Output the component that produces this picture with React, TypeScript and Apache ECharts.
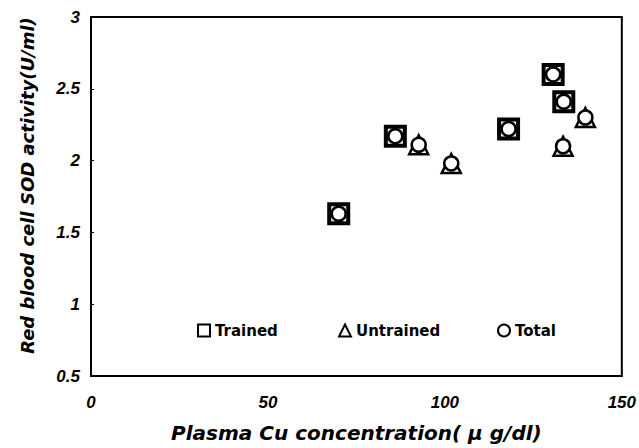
import React, { useEffect, useRef } from "react";
import * as echarts from "echarts";

const trainedX = [70, 86, 118, 130.6, 133.6];
const trainedY = [1.63, 2.17, 2.22, 2.6, 2.41];
const untrainedX = [92.6, 101.8, 139.7, 133.4];
const untrainedY = [2.11, 1.98, 2.3, 2.1];
const totalX = [70, 86, 92.6, 101.8, 118, 130.6, 133.6, 139.7, 133.4];
const totalY = [1.63, 2.17, 2.11, 1.98, 2.22, 2.6, 2.41, 2.3, 2.1];
const seriesNames = ["Trained", "Untrained", "Total"];
const xTicks = [0, 50, 100, 150];
const yTicks = [0.5, 1, 1.5, 2, 2.5, 3];

const pairs = (xs: number[], ys: number[]) => xs.map((x, i) => [x, ys[i]]);

const FONT = "'Liberation Sans', Arial, sans-serif";
const WIDE = "'DejaVu Sans', sans-serif";

export default function App() {
  const ref = useRef<HTMLDivElement>(null);
  useEffect(() => {
    document.body.style.margin = "0";
    const chart = echarts.init(ref.current!, null, { renderer: "svg" });
    const legendText = { fontFamily: WIDE, fontWeight: "bold", fontSize: 15, color: "#000" };
    const mkLegend = (name: string, left: number, icon: string) => ({
      data: [{ name, icon }],
      left,
      top: 323,
      padding: 0,
      itemWidth: 12,
      itemHeight: 12,
      itemGap: 4,
      textStyle: legendText,
      itemStyle: { color: "#fff", borderColor: "#000", borderWidth: 2 },
      selectedMode: false,
    });
    const tickLabel = {
      fontFamily: FONT,
      fontWeight: "bold",
      fontStyle: "italic",
      fontSize: 17,
      color: "#000",
    };
    chart.setOption({
      animation: false,
      backgroundColor: "#fff",
      grid: {
        left: 91,
        right: 15,
        top: 17,
        bottom: 72,
        show: true,
        borderColor: "#000",
        borderWidth: 2,
      },
      legend: [
        mkLegend(seriesNames[0], 197, "rect"),
        mkLegend(seriesNames[1], 338, "triangle"),
        mkLegend(seriesNames[2], 497, "circle"),
      ],
      xAxis: {
        type: "value",
        min: xTicks[0],
        max: xTicks[xTicks.length - 1],
        interval: 50,
        name: "Plasma Cu concentration( μ g/dl)",
        nameLocation: "middle",
        nameGap: 47,
        nameTextStyle: { fontFamily: WIDE, fontWeight: "bold", fontStyle: "italic", fontSize: 20, color: "#000" },
        axisLine: { show: true, lineStyle: { color: "#000", width: 2 } },
        axisTick: { show: false },
        splitLine: { show: false },
        axisLabel: { ...tickLabel, margin: 18 },
      },
      yAxis: {
        type: "value",
        min: yTicks[0],
        max: yTicks[yTicks.length - 1],
        interval: 0.5,
        name: "Red blood cell SOD activity(U/ml)",
        nameLocation: "middle",
        nameGap: 55,
        nameTextStyle: {
          fontFamily: WIDE,
          fontWeight: "bold",
          fontStyle: "italic",
          fontSize: 18,
          color: "#000",
          padding: [0, 0, 0, 22],
        },
        axisLine: { show: true, lineStyle: { color: "#000", width: 2 } },
        axisTick: { show: true, inside: true, length: 3, lineStyle: { color: "#000" } },
        splitLine: { show: false },
        axisLabel: { ...tickLabel, margin: 11 },
      },
      series: [
        {
          name: seriesNames[0],
          type: "scatter",
          symbol: "rect",
          symbolSize: 19,
          data: pairs(trainedX, trainedY),
          itemStyle: { color: "#fff", borderColor: "#000", borderWidth: 4, opacity: 1 },
          z: 2,
        },
        {
          name: seriesNames[1],
          type: "scatter",
          symbol: "triangle",
          symbolSize: 19,
          data: pairs(untrainedX, untrainedY),
          itemStyle: { color: "#fff", borderColor: "#000", borderWidth: 2.5, opacity: 1 },
          z: 3,
        },
        {
          name: seriesNames[2],
          type: "scatter",
          symbol: "circle",
          symbolSize: 14,
          data: pairs(totalX, totalY),
          itemStyle: { color: "#fff", borderColor: "#000", borderWidth: 2.5, opacity: 1 },
          z: 4,
        },
      ],
    });
    return () => chart.dispose();
  }, []);
  return <div ref={ref} style={{ width: 639, height: 448 }} />;
}
